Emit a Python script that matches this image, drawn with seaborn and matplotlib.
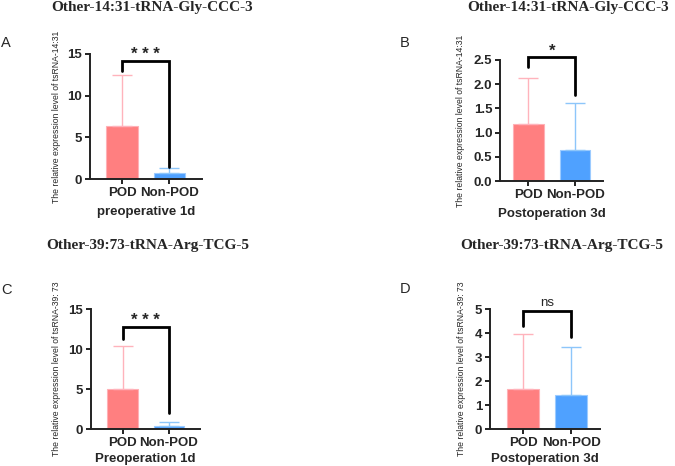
import matplotlib
matplotlib.use("Agg")
import matplotlib.pyplot as plt
import seaborn as sns

# ---- data ----
groups = ["POD", "Non-POD"]

titles = ["Other-14:31-tRNA-Gly-CCC-3", "Other-14:31-tRNA-Gly-CCC-3",
          "Other-39:73-tRNA-Arg-TCG-5", "Other-39:73-tRNA-Arg-TCG-5"]
letters = ["A", "B", "C", "D"]
ylabels = ["The relative expression level of tsRNA-14:31",
           "The relative expression level of tsRNA-14:31",
           "The relative expression level of tsRNA-39: 73",
           "The relative expression level of tsRNA-39: 73"]
xlabels = ["preoperative 1d", "Postoperation 3d", "Preoperation 1d", "Postoperation 3d"]

means_a = [6.33, 0.76]
upper_a = [12.48, 1.27]
means_b = [1.17, 0.65]
upper_b = [2.12, 1.62]
means_c = [5.02, 0.42]
upper_c = [10.40, 0.88]
means_d = [1.68, 1.42]
upper_d = [3.97, 3.42]

signif = ["* * *", "*", "* * *", "ns"]
# bracket: top, left leg end, right leg end
bracket_a = [14.2, 13.0, 1.5]
bracket_b = [2.56, 2.35, 1.78]
bracket_c = [12.8, 11.2, 2.0]
bracket_d = [4.92, 4.30, 3.85]

yticks_a = [0, 5, 10, 15]
yticks_b = [0.0, 0.5, 1.0, 1.5, 2.0, 2.5]
yticks_c = [0, 5, 10, 15]
yticks_d = [0, 1, 2, 3, 4, 5]
ytick_labels_b = ["0.0", "0.5", "1.0", "1.5", "2.0", "2.5"]

# ---- layout (pixels on a 675 x 466 canvas) ----
W, H = 675, 466
# left, right, bottom, top of each axes
rects = [(90, 202, 179, 54), (500, 603, 181, 60), (91, 200, 429, 309), (490, 600, 429, 309)]
xlims = [(-0.68, 1.70), (-0.61, 1.60), (-0.68, 1.67), (-0.68, 1.59)]
ylabel_x = [57, 461, 57, 462]
xlabel_off = [27, 27, 24, 24]
title_pos = [(152, 8), (568, 8), (148, 246), (562, 246)]
letter_pos = [(6, 43), (405, 43), (6, 290), (405, 289)]

POD_COL = "#FF7F80"
NON_COL = "#4FA1FF"
POD_ERR = "#FFB3BC"
NON_ERR = "#8DC6FA"


def draw_panel(fig, i, means, upper, bracket, yticks, ytick_labels=None):
    l, r, b, t = rects[i]
    ax = fig.add_axes([l / W, 1 - b / H, (r - l) / W, (b - t) / H])

    sns.barplot(x=groups, y=means, hue=groups, palette=[POD_COL, NON_COL],
                legend=False, errorbar=None, width=0.66, saturation=1, ax=ax)
    for patch, ec in zip(ax.patches, ["#FFB0B6", "#9CCBFF"]):
        patch.set_edgecolor(ec)
        patch.set_linewidth(0.8)

    for j, (m, u, c) in enumerate(zip(means, upper, [POD_ERR, NON_ERR])):
        ax.errorbar(j, m, yerr=[[0], [u - m]], fmt="none", ecolor=c,
                    elinewidth=1.0, capsize=7.5, capthick=1.0, zorder=1)

    top, leg0, leg1 = bracket
    ax.plot([0, 0, 1, 1], [leg0, top, top, leg1], color="black", lw=2.0,
            clip_on=False, solid_joinstyle="miter")
    ymax = yticks[-1]
    is_ns = signif[i] == "ns"
    ax.text(0.5, top + ymax * (0.065 if is_ns else 0.05), signif[i],
            ha="center", va="center", fontsize=9.5 if is_ns else 12,
            fontweight="normal" if is_ns else "bold", clip_on=False)

    ax.set_xlim(*xlims[i])
    ax.set_ylim(0, ymax)
    if ytick_labels is None:
        ytick_labels = [str(v) for v in yticks]
    ax.set_yticks(yticks, ytick_labels, fontweight="bold", fontsize=9.5)
    ax.set_xticks([0, 1], groups, fontweight="bold", fontsize=9.5)
    sns.despine(ax=ax)
    for s in ["left", "bottom"]:
        ax.spines[s].set_linewidth(1.4)
        ax.spines[s].set_color("#222222")
    ax.tick_params(axis="both", width=1.4, length=3.5, color="#222222", pad=2)

    ax.set_ylabel(ylabels[i], fontsize=6.2)
    ax.yaxis.set_label_coords((ylabel_x[i] + 4 - l) / (r - l), 0.5)
    ax.set_xlabel(xlabels[i], fontsize=9.5, fontweight="bold")
    ax.xaxis.set_label_coords(0.5, -xlabel_off[i] / (b - t))

    tx, ty = title_pos[i]
    fig.text(tx / W, 1 - ty / H, titles[i], ha="center", va="center",
             fontsize=11, fontweight="bold", family="Liberation Serif")
    lx, ly = letter_pos[i]
    fig.text(lx / W, 1 - ly / H, letters[i], ha="center", va="center", fontsize=10.5)
    return ax


def main():
    sns.set_theme(style="ticks")
    plt.rcParams["font.family"] = ["Liberation Sans", "DejaVu Sans"]
    fig = plt.figure(figsize=(W / 100, H / 100), dpi=100)
    fig.patch.set_facecolor("white")

    draw_panel(fig, 0, means_a, upper_a, bracket_a, yticks_a)
    draw_panel(fig, 1, means_b, upper_b, bracket_b, yticks_b, ytick_labels_b)
    draw_panel(fig, 2, means_c, upper_c, bracket_c, yticks_c)
    draw_panel(fig, 3, means_d, upper_d, bracket_d, yticks_d)

    fig.savefig("out.png", dpi=100)
    plt.close(fig)


if __name__ == "__main__":
    main()
